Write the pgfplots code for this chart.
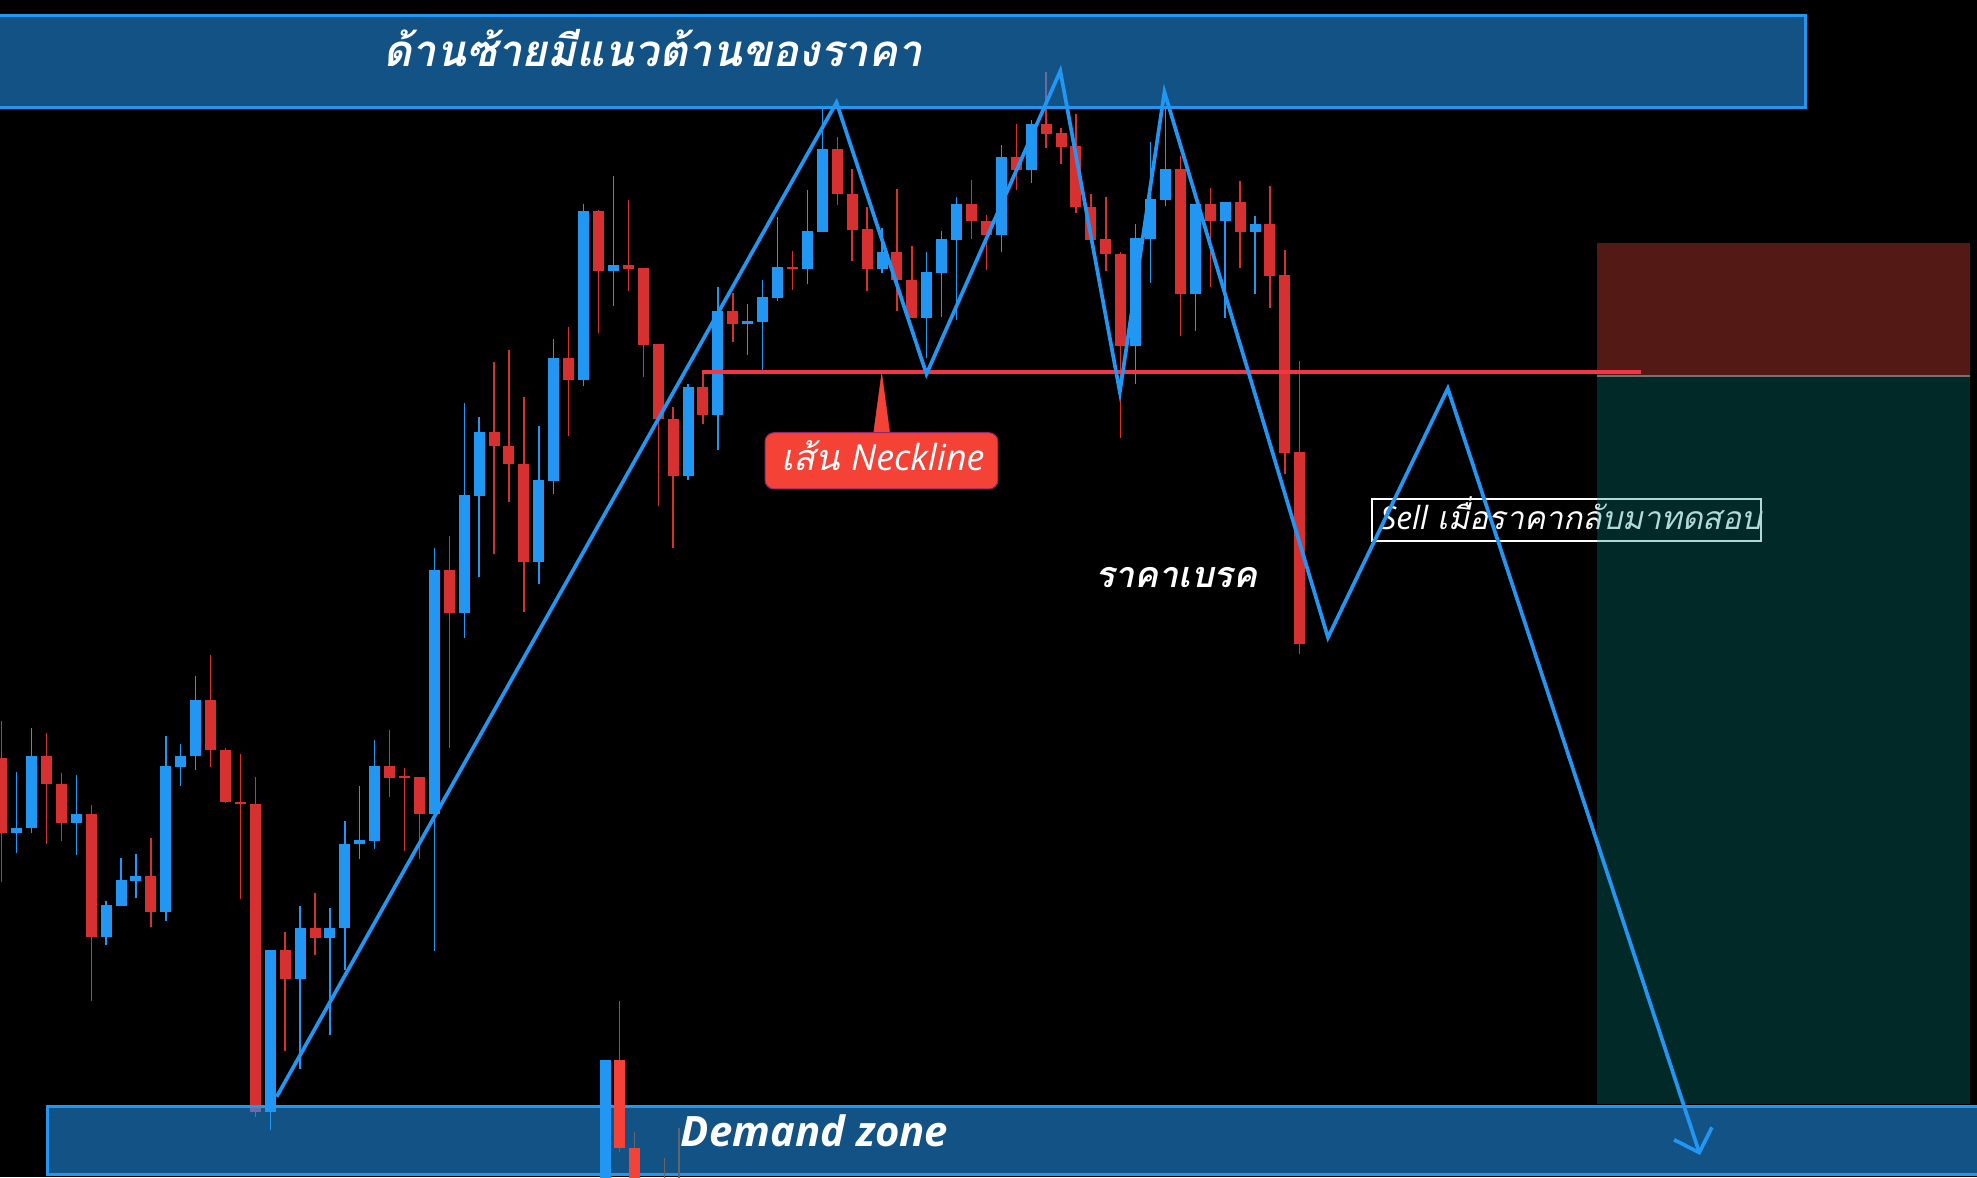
\documentclass[border=0pt]{standalone}
\usepackage{fontspec}
\usepackage{pgfplots}
\pgfplotsset{compat=1.18}
\usepackage{pgfplotstable}
\usetikzlibrary{arrows.meta}
\newfontfamily\thaifont[Script=Thai]{Loma}
\newfontfamily\latinfont{Open Sans}
\definecolor{cblue}{RGB}{33,150,243}
\definecolor{cred}{RGB}{214,48,48}
\definecolor{pred}{RGB}{244,67,54}
\definecolor{tvred}{RGB}{242,54,69}
\definecolor{posred}{RGB}{82,25,21}
\definecolor{posteal}{RGB}{0,135,132}

\pgfplotstableread{
i o h l c
1 344 405 324 349
2 349 449 344 421
5 354 402 322 363
7 240 276 232 272
8 271 319 271 297
9 296 323 279 301
11 265 441 256 411
12 410 433 391 421
13 421 501 407 477
18 65 227 47 227
20 198 271 108 249
22 239 269 142 249
23 249 356 207 333
24 333 391 318 337
25 336 437 328 411
29 363 629 226 607
31 564 774 539 682
32 681 760 600 745
36 615 751 593 697
37 696 838 683 819
39 797 973 791 966
41 906 1001 871 912
46 701 793 697 790
48 762 890 727 866
50 853 873 822 856
51 855 897 806 880
52 879 960 876 910
54 908 987 893 946
55 945 1069 945 1028
59 908 949 904 925
62 859 925 819 905
63 904 946 860 938
64 937 980 857 973
67 942 1032 925 1020
69 1007 1057 994 1053
76 831 953 793 939
77 938 1035 894 978
78 977 1071 971 1008
80 883 973 846 973
82 956 975 859 975
84 945 961 883 953
}\upc

\pgfplotstableread{
i o h l c
0 419 456 295 344
3 421 444 333 393
4 393 404 336 354
6 363 372 176 240
10 301 339 250 265
14 477 522 410 427
15 427 429 374 375
16 375 423 278 373
17 373 400 60 65
19 227 245 126 198
21 249 284 222 239
26 411 447 380 399
27 400 409 326 399
28 400 400 318 363
30 607 641 429 564
33 745 815 623 731
34 731 827 675 713
35 713 780 565 615
38 819 850 741 797
40 966 967 844 906
42 912 977 886 908
43 909 909 800 832
44 833 833 671 758
45 758 770 629 701
47 790 806 753 762
49 866 884 835 853
53 910 926 887 908
56 1028 1040 972 983
57 983 1008 916 947
58 948 970 886 908
60 925 988 866 897
61 897 931 859 859
65 973 997 938 956
66 956 962 907 942
68 1020 1053 987 1007
70 1053 1105 1029 1043
71 1044 1049 1013 1030
72 1031 1063 964 970
73 970 983 937 937
74 938 980 906 923
75 923 925 739 831
79 1008 1021 841 883
81 973 989 890 956
83 975 996 909 945
85 953 991 869 901
86 902 927 703 724
87 725 816 523 533
}\downc

% candles pasted over the demand zone
\pgfplotstableread{
i o h l c
40.44 -5 121 -5 117
}\pasteup
\pgfplotstableread{
i o h l c
41.39 117 176 25 29
42.43 29 45 -5 -5
}\pastedown
\pgfplotstableread{
i h l
44.41 19 -5
45.39 49 -5
}\pastewick

\pgfplotsset{
  wick/.style={draw=none, mark=none, forget plot,
    error bars/.cd, y dir=plus, y explicit, error mark=none,
    error bar style={draw=#1, line width=1.4bp, line cap=butt}},
  body/.style={draw=none, mark=none, forget plot,
    error bars/.cd, y dir=plus, y explicit, error mark=none,
    error bar style={draw=#1, line width=11bp, line cap=butt}},
}

\begin{document}
\begin{tikzpicture}
\begin{axis}[
  scale only axis, width=1977bp, height=1177bp,
  xmin=-0.114, xmax=132.39, ymin=0, ymax=1177,
  axis line style={draw=none}, ticks=none,
  axis background/.style={fill=black},
  clip=true,
]
% ---- wicks
\addplot[wick=cblue]
  table[x=i, y=l, y error expr={\thisrow{h}-\thisrow{l}}] {\upc};
\addplot[wick=cred]
  table[x=i, y=l, y error expr={\thisrow{h}-\thisrow{l}}] {\downc};
% ---- bodies
\addplot[body=cblue]
  table[x=i, y expr={min(\thisrow{o},\thisrow{c})}, y error expr={max(abs(\thisrow{o}-\thisrow{c}),2)}] {\upc};
\addplot[body=cred]
  table[x=i, y expr={min(\thisrow{o},\thisrow{c})}, y error expr={max(abs(\thisrow{o}-\thisrow{c}),2)}] {\downc};

% ---- zones (semi transparent)
\addplot[fill=cblue, fill opacity=0.55, draw=cblue, line width=3bp]
  coordinates {(-2,1069.5) (120.9,1069.5) (120.9,1161) (-2,1161)} -- cycle;
\addplot[fill=cblue, fill opacity=0.55, draw=cblue, line width=3bp]
  coordinates {(3.04,3) (135,3) (135,71) (3.04,71)} -- cycle;

% ---- pasted candles on the zone
\addplot[wick=black!60!white]
  table[x=i, y=l, y error expr={\thisrow{h}-\thisrow{l}}] {\pastewick};
\addplot[wick=black!60!white]
  table[x=i, y=l, y error expr={\thisrow{h}-\thisrow{l}}] {\pastedown};
\addplot[body=cblue]
  table[x=i, y expr={min(\thisrow{o},\thisrow{c})}, y error expr={abs(\thisrow{o}-\thisrow{c})}] {\pasteup};
\addplot[body=pred]
  table[x=i, y expr={min(\thisrow{o},\thisrow{c})}, y error expr={abs(\thisrow{o}-\thisrow{c})}] {\pastedown};

% ---- sell text box (under the teal area)
\addplot[draw=white, line width=2bp, fill=none]
  coordinates {(91.83,636) (117.93,636) (117.93,678) (91.83,678)} -- cycle;
\node[anchor=base west, text=white, inner sep=0pt,
  font={\fontsize{32}{36}\selectfont}] at (axis cs:92.38,647)
  {{\latinfont\itshape Sell} {\thaifont\itshape เมื่อราคากลับมาทดสอบ}};

% ---- position tool
\addplot[fill=posteal, fill opacity=0.31, draw=none]
  coordinates {(106.95,73) (131.9,73) (131.9,801) (106.95,801)} -- cycle;
\addplot[fill=posred, draw=none]
  coordinates {(106.95,801) (131.9,801) (131.9,933.7) (106.95,933.7)} -- cycle;
\addplot[draw=black!55!white, line width=2bp]
  coordinates {(106.95,800.5) (131.9,800.5)};

% ---- neckline
\addplot[draw=tvred, line width=4bp]
  coordinates {(46.94,805) (109.89,805)};

% ---- pattern zigzag
\addplot[draw=cblue, line width=3.7bp, line join=miter, -{Straight Barb[length=20bp, width=40bp]}]
  coordinates {(18.43,80.3) (55.95,1074.5) (61.98,803) (70.95,1106) (74.94,785)
               (77.93,1085) (88.89,539.5) (96.92,788.5) (113.83,22)};

% ---- neckline label
\addplot[fill=pred, draw=pred]
  coordinates {(58.98,803.7) (58.42,742) (59.54,742)} -- cycle;
\addplot[fill=pred, draw=black!30!blue!40!pred, line width=1bp, rounded corners=9bp]
  coordinates {(51.16,688) (66.77,688) (66.77,744.3) (51.16,744.3)} -- cycle;
\node[anchor=base, text=white, inner sep=0pt, font={\fontsize{36}{40}\selectfont}]
  at (axis cs:59.07,706) {{\thaifont\itshape เส้น} {\latinfont\itshape Neckline}};

% ---- texts
\node[anchor=base, text=white, inner sep=0pt,
  font={\thaifont\bfseries\itshape\fontsize{44}{48}\selectfont}]
  at (axis cs:43.62,1110.3) {ด้านซ้ายมีแนวต้านของราคา};
\node[anchor=base, text=white, inner sep=0pt,
  font={\latinfont\bfseries\itshape\fontsize{42}{46}\selectfont}]
  at (axis cs:54.48,30.3) {Demand zone};
\node[anchor=base, text=white, inner sep=0pt,
  font={\thaifont\bfseries\itshape\fontsize{36}{40}\selectfont}]
  at (axis cs:78.71,589) {ราคาเบรค};
\end{axis}
\end{tikzpicture}
\end{document}
